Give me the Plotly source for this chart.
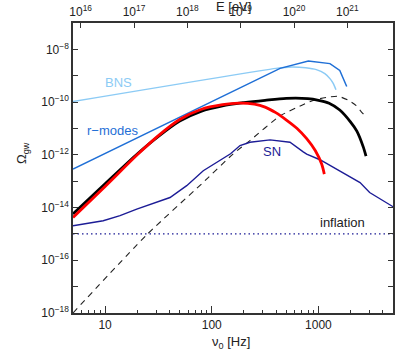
import numpy as np
import plotly.graph_objects as go

# frequencies in Hz, Omega_gw values
bns_f = [5, 400, 562, 759, 955, 1148, 1288, 1380, 1459]
bns_om = [1.05e-10, 1.9e-9, 2.14e-9, 2.0e-9, 1.7e-9, 1.2e-9, 7.6e-10, 5.0e-10, 2.95e-10]

rmodes_f = [5, 437, 804, 1282, 1585, 1841]
rmodes_om = [2.88e-13, 1.9e-9, 3.63e-9, 2.88e-9, 1.58e-9, 3.9e-10]

black_f = [5, 10, 20, 31.6, 50, 79, 126, 200, 316, 500, 794, 1000, 1259, 1585, 1995, 2291, 2630, 2793]
black_om = [5.75e-15, 7.94e-14, 1.07e-12, 5.0e-12, 1.9e-11, 4.47e-11, 7.24e-11, 9.55e-11, 1.17e-10,
            1.38e-10, 1.35e-10, 1.17e-10, 9.1e-11, 5.0e-11, 1.78e-11, 7.9e-12, 2.0e-12, 8.9e-13]

red_f = [5, 10, 20, 31.6, 50, 79, 126, 178, 251, 316, 398, 501, 631, 776, 933, 1072, 1135]
red_om = [4.17e-15, 6.31e-14, 1.0e-12, 5.37e-12, 2.19e-11, 5.25e-11, 7.94e-11, 9.12e-11, 8.32e-11,
          6.46e-11, 3.98e-11, 2.09e-11, 1.0e-11, 4.1e-12, 1.45e-12, 4.47e-13, 1.86e-13]

dash_f = [5, 24.6, 80.4, 158, 228, 437, 700, 933, 1259, 1535, 1905, 2260, 2512, 2793]
dash_om = [1e-18, 9.3e-16, 7.94e-14, 1.07e-12, 3.47e-12, 3.0e-11, 7.6e-11, 1.23e-10, 1.55e-10,
           1.66e-10, 1.17e-10, 7.4e-11, 4.37e-11, 2.82e-11]

sn_f = [5, 9.6, 13.8, 19.8, 40.6, 58.2, 83.2, 111, 150, 184, 228, 352, 541, 720, 776, 1033, 1585,
        2455, 3020, 4365, 5012]
sn_om = [2.04e-15, 3.16e-15, 4.9e-15, 8.7e-15, 2.4e-14, 6.76e-14, 2.5e-13, 5.1e-13, 1.1e-12, 2.24e-12,
         3.0e-12, 3.7e-12, 3.0e-12, 1.3e-12, 1.07e-12, 6.5e-13, 2.5e-13, 8.9e-14, 3.7e-14, 1.58e-14,
         1.07e-14]

infl_f = [5, 5000]
infl_om = [1e-15, 1e-15]

# tick labels
x_ticks = [10, 100, 1000]
x_minor = [6, 7, 8, 9, 20, 30, 40, 50, 60, 70, 80, 90, 200, 300, 400, 500, 600, 700, 800, 900,
           2000, 3000, 4000]
e_ticks = [1e16, 1e17, 1e18, 1e19, 1e20, 1e21]
e_text = ["10<sup>16</sup>", "10<sup>17</sup>", "10<sup>18</sup>", "10<sup>19</sup>",
          "10<sup>20</sup>", "10<sup>21</sup>"]
y_ticks = [10.0 ** k for k in range(-18, -7)]
y_text = ["10<sup>\u2212%d</sup>" % -k if k % 2 == 0 else "" for k in range(-18, -7)]

LIGHT = "#8ccbf5"
MED = "#1f6fd6"
NAVY = "#1c1c96"

fig = go.Figure()
fig.add_trace(go.Scatter(x=infl_f, y=infl_om, mode="lines", line=dict(color=NAVY, width=1.3, dash="1.5px,3px")))
fig.add_trace(go.Scatter(x=dash_f, y=dash_om, mode="lines", line=dict(color="#222", width=1.1, dash="6px,5px"),
                         line_shape="spline", line_smoothing=0.6))
fig.add_trace(go.Scatter(x=sn_f, y=sn_om, mode="lines", line=dict(color=NAVY, width=1.4)))
fig.add_trace(go.Scatter(x=bns_f, y=bns_om, mode="lines", line=dict(color=LIGHT, width=1.5),
                         line_shape="spline", line_smoothing=0.5))
fig.add_trace(go.Scatter(x=rmodes_f, y=rmodes_om, mode="lines", line=dict(color=MED, width=1.5)))
fig.add_trace(go.Scatter(x=black_f, y=black_om, mode="lines", line=dict(color="black", width=2.8),
                         line_shape="spline", line_smoothing=0.8))
fig.add_trace(go.Scatter(x=red_f, y=red_om, mode="lines", line=dict(color="red", width=2.8),
                         line_shape="spline", line_smoothing=0.8))
# dummy trace so the top energy axis is drawn
fig.add_trace(go.Scatter(x=[1e16], y=[1e-20], xaxis="x2", mode="markers", marker=dict(opacity=0),
                         hoverinfo="skip"))

axis_common = dict(showline=True, linecolor="#333", linewidth=1.5, showgrid=False, zeroline=False,
                   ticks="inside", tickcolor="#333", tickwidth=1.2, automargin=False)

fig.update_layout(
    width=415, height=360,
    margin=dict(l=73, r=22, t=23, b=47),
    paper_bgcolor="white", plot_bgcolor="white",
    showlegend=False,
    font=dict(family="Liberation Sans, Arial, sans-serif", size=12, color="#222"),
    xaxis=dict(type="log", range=[np.log10(5), np.log10(5000)], tickvals=x_ticks,
               ticktext=[str(v) for v in x_ticks], ticklen=7,
               minor=dict(ticks="inside", ticklen=3, tickvals=x_minor, tickcolor="#333"),
               **axis_common),
    xaxis2=dict(type="log", overlaying="x", side="top", range=[15.856, 21.856],
                tickvals=e_ticks, ticktext=e_text, ticklen=5, **axis_common),
    yaxis=dict(type="log", range=[-18, -7], tickvals=y_ticks, ticktext=y_text, ticklen=5,
               mirror="ticks", **axis_common),
)

# curve labels (positions in log10 axis units)
labels = [("BNS", 1.121, -9.25, LIGHT), ("r\u2212modes", 1.065, -11.08, MED),
          ("SN", 2.565, -11.88, NAVY), ("inflation", 3.23, -14.58, "#222")]
for txt, lx, ly, col in labels:
    fig.add_annotation(x=lx, y=ly, xref="x", yref="y", text=txt, showarrow=False,
                       xanchor="center", yanchor="middle", font=dict(size=13, color=col))

# axis titles as annotations so they sit exactly where the original has them
titles = [("\u03bd<sub>0</sub> [Hz]", 0.494, -0.103, 0), ("E [eV]", 0.5, 1.057, 0),
          ("\u03a9<sub>gw</sub>", -0.156, 0.552, -90)]
for txt, px, py, ang in titles:
    fig.add_annotation(x=px, y=py, xref="paper", yref="paper", text=txt, showarrow=False,
                       xanchor="center", yanchor="middle", textangle=ang, font=dict(size=13))

# drop the default page margin so the figure sits at the window corner
fig.write_html("out.html", config={"displayModeBar": False},
               post_script="document.body.style.margin='0px';")
